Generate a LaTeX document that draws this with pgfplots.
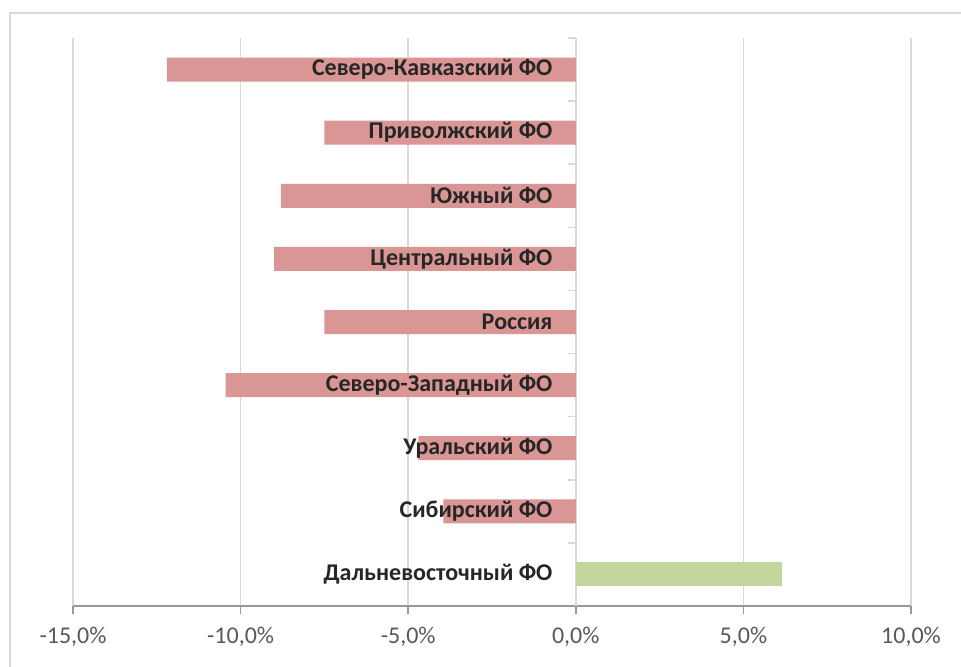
\documentclass[border=0pt]{standalone}
\usepackage{fontspec}
\setmainfont{Carlito}
\usepackage{pgfplots}
\pgfplotsset{compat=1.18}
\definecolor{barred}{HTML}{D99694}
\definecolor{bargreen}{HTML}{C3D69B}
\definecolor{gridc}{HTML}{D9D9D9}
\definecolor{axisc}{HTML}{989898}
\definecolor{ticklab}{HTML}{595959}
\definecolor{labc}{HTML}{262626}
\tikzset{lab/.style={anchor=east, inner sep=0pt, xshift=-11.5pt, text=labc, font=\fontsize{12}{14}\selectfont\bfseries}}
\begin{document}
\begin{tikzpicture}
\useasboundingbox (-36.5pt,-30pt) rectangle (444pt,303pt);
\fill[white] (-36.5pt,-30pt) rectangle (444pt,303pt);
\draw[gridc, line width=1.2pt] (-31.5pt,-32pt) -- (-31.5pt,296.5pt) -- (446pt,296.5pt);
\begin{axis}[
  at={(0,0)}, anchor=south west,
  scale only axis, width=419pt, height=284pt,
  xmin=-15, xmax=10, ymin=-0.5, ymax=8.5,
  xbar, bar width=12pt, bar shift=0pt,
  axis x line=bottom, axis y line=middle, axis line style={-},
  x axis line style={axisc, line width=0.8pt},
  y axis line style={gridc, line width=0.8pt},
  hide obscured x ticks=false,
  xtick={-15,-10,-5,0,5,10},
  xticklabels={{-15,0\%},{-10,0\%},{-5,0\%},{0,0\%},{5,0\%},{10,0\%}},
  xtick align=outside,
  major x tick style={axisc, line width=0.8pt},
  major tick length=4pt,
  xticklabel style={text=ticklab, font=\fontsize{12}{14}\selectfont, yshift=-3pt},
  xmajorgrids, grid style={gridc, line width=0.8pt},
  ytick={0,...,8},
  yticklabels={},
  major y tick style={draw=none},
  minor ytick={-0.5,0.5,1.5,2.5,3.5,4.5,5.5,6.5,7.5,8.5},
  ytick align=center,
  minor tick length=4pt,
  minor y tick style={gridc, line width=0.8pt, xshift=-2pt},
  clip=false,
]
\addplot[fill=barred, draw=none] coordinates {(-12.2,8) (-7.5,7) (-8.8,6) (-9.0,5) (-7.5,4) (-10.45,3) (-4.7,2) (-3.95,1)};
\addplot[fill=bargreen, draw=none] coordinates {(6.15,0)};
\node[lab] at (axis cs:0,8) {Северо-Кавказский ФО};
\node[lab] at (axis cs:0,7) {Приволжский ФО};
\node[lab] at (axis cs:0,6) {Южный ФО};
\node[lab] at (axis cs:0,5) {Центральный ФО};
\node[lab] at (axis cs:0,4) {Россия};
\node[lab] at (axis cs:0,3) {Северо-Западный ФО};
\node[lab] at (axis cs:0,2) {Уральский ФО};
\node[lab] at (axis cs:0,1) {Сибирский ФО};
\node[lab] at (axis cs:0,0) {Дальневосточный ФО};
\end{axis}
\end{tikzpicture}
\end{document}
